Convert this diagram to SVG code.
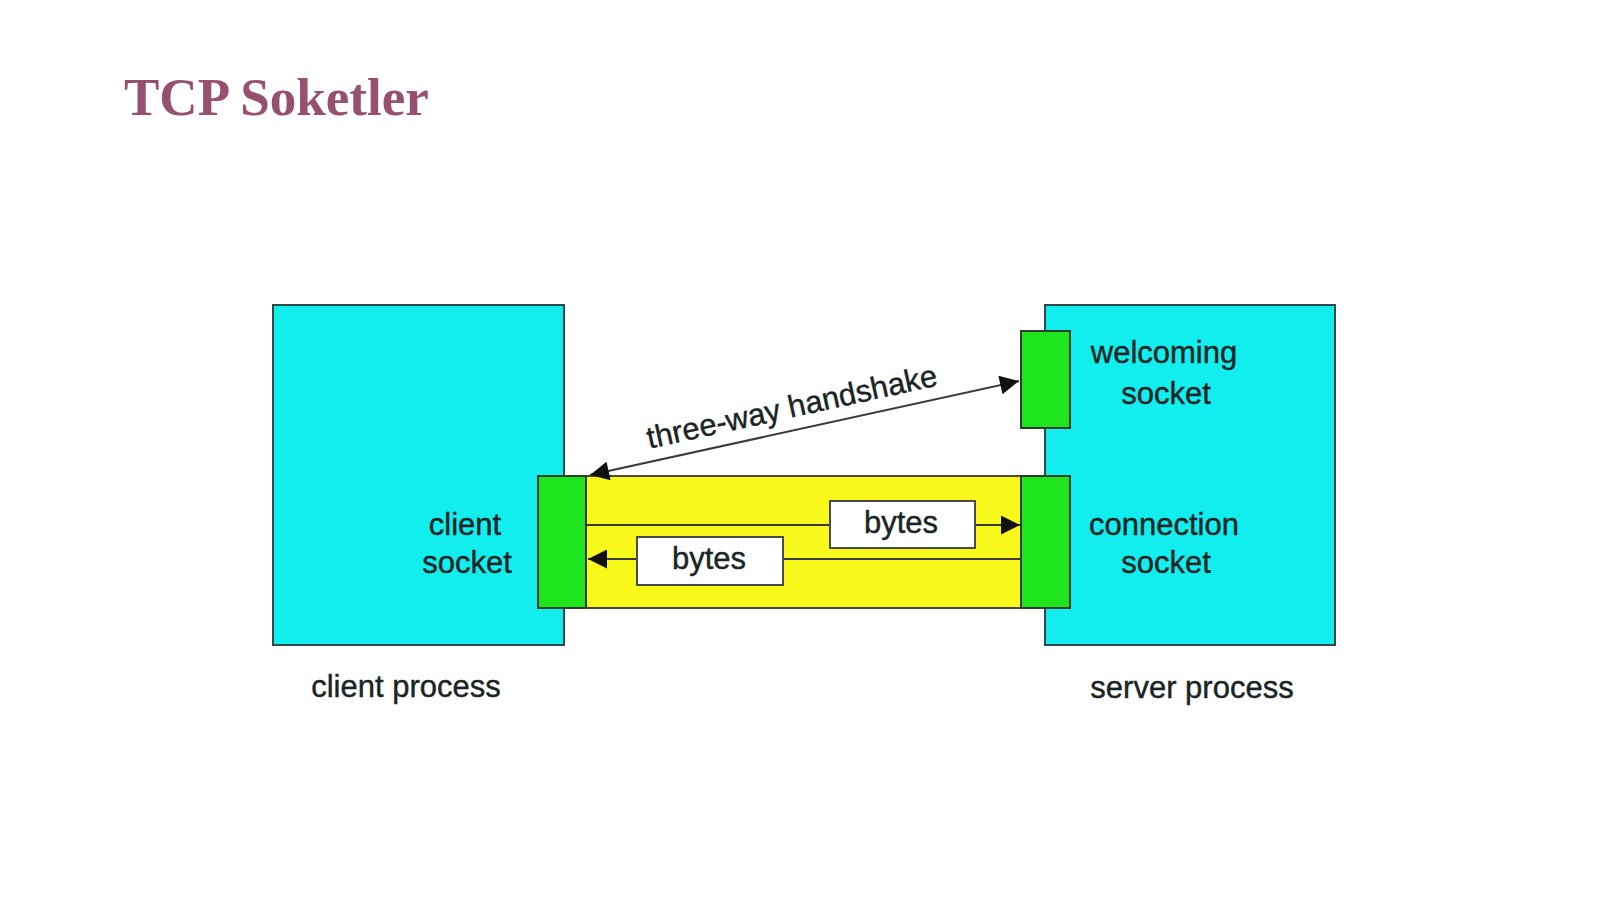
<svg xmlns="http://www.w3.org/2000/svg" width="1600" height="900" viewBox="0 0 1600 900">
<defs>
<style>
.proc{fill:#12eeee;stroke:#2e4a4a;stroke-width:2}
.sock{fill:#1ee51e;stroke:#2e3e2e;stroke-width:2}
.pipe{fill:#f8f81a;stroke:#4a4a3a;stroke-width:2}
.box{fill:#ffffff;stroke:#4a4a4a;stroke-width:2}
.lbl{font-family:"Liberation Sans",Arial,sans-serif;font-size:31px;fill:#1a2424;stroke:#1a2424;stroke-width:0.4;text-anchor:middle}
.ln{stroke:#3a3a3a;stroke-width:2;fill:none}
.title{font-family:"Liberation Serif","Times New Roman",serif;font-weight:bold;font-size:53px;fill:#97506f}
</style>
<marker id="ahb" viewBox="0 0 10 10" refX="10" refY="5" markerWidth="21" markerHeight="19" markerUnits="userSpaceOnUse" orient="auto-start-reverse">
<path d="M0,0 L10,5 L0,10 z" fill="#111"/>
</marker>
</defs>
<rect width="1600" height="900" fill="#ffffff"/>
<text class="title" x="124" y="115">TCP Soketler</text>

<g id="client-process">
<rect class="proc" x="273" y="305" width="291" height="340"/>
<text class="lbl" x="406" y="697">client process</text>
</g>
<g id="server-process">
<rect class="proc" x="1045" y="305" width="290" height="340"/>
<text class="lbl" x="1192" y="698">server process</text>
</g>
<g id="tcp-pipe">
<rect class="pipe" x="586" y="476" width="436" height="132"/>
</g>
<g id="client-socket">
<rect class="sock" x="538" y="476" width="48" height="132"/>
<text class="lbl" x="465" y="535">client</text>
<text class="lbl" x="467" y="573">socket</text>
</g>
<g id="welcoming-socket">
<rect class="sock" x="1021" y="331" width="49" height="97"/>
<text class="lbl" x="1164" y="363">welcoming</text>
<text class="lbl" x="1166" y="404">socket</text>
</g>
<g id="connection-socket">
<rect class="sock" x="1021" y="476" width="49" height="132"/>
<text class="lbl" x="1164" y="535">connection</text>
<text class="lbl" x="1166" y="573">socket</text>
</g>

<g id="connectors">
<line class="ln" x1="590" y1="475" x2="1019" y2="381" marker-start="url(#ahb)" marker-end="url(#ahb)" stroke-width="1.6"/>
<text class="lbl" x="794" y="417" font-size="32" transform="rotate(-12.4 794 417)">three-way handshake</text>
<line class="ln" x1="587" y1="525" x2="830" y2="525"/>
<line class="ln" x1="975" y1="525" x2="1020" y2="525" marker-end="url(#ahb)"/>
<line class="ln" x1="783" y1="559" x2="1021" y2="559"/>
<line class="ln" x1="637" y1="559" x2="588" y2="559" marker-end="url(#ahb)"/>
</g>

<g id="bytes-out">
<rect class="box" x="830" y="501" width="145" height="47"/>
<text class="lbl" x="901" y="533">bytes</text>
</g>
<g id="bytes-in">
<rect class="box" x="637" y="537" width="146" height="48"/>
<text class="lbl" x="709" y="569">bytes</text>
</g>
</svg>
